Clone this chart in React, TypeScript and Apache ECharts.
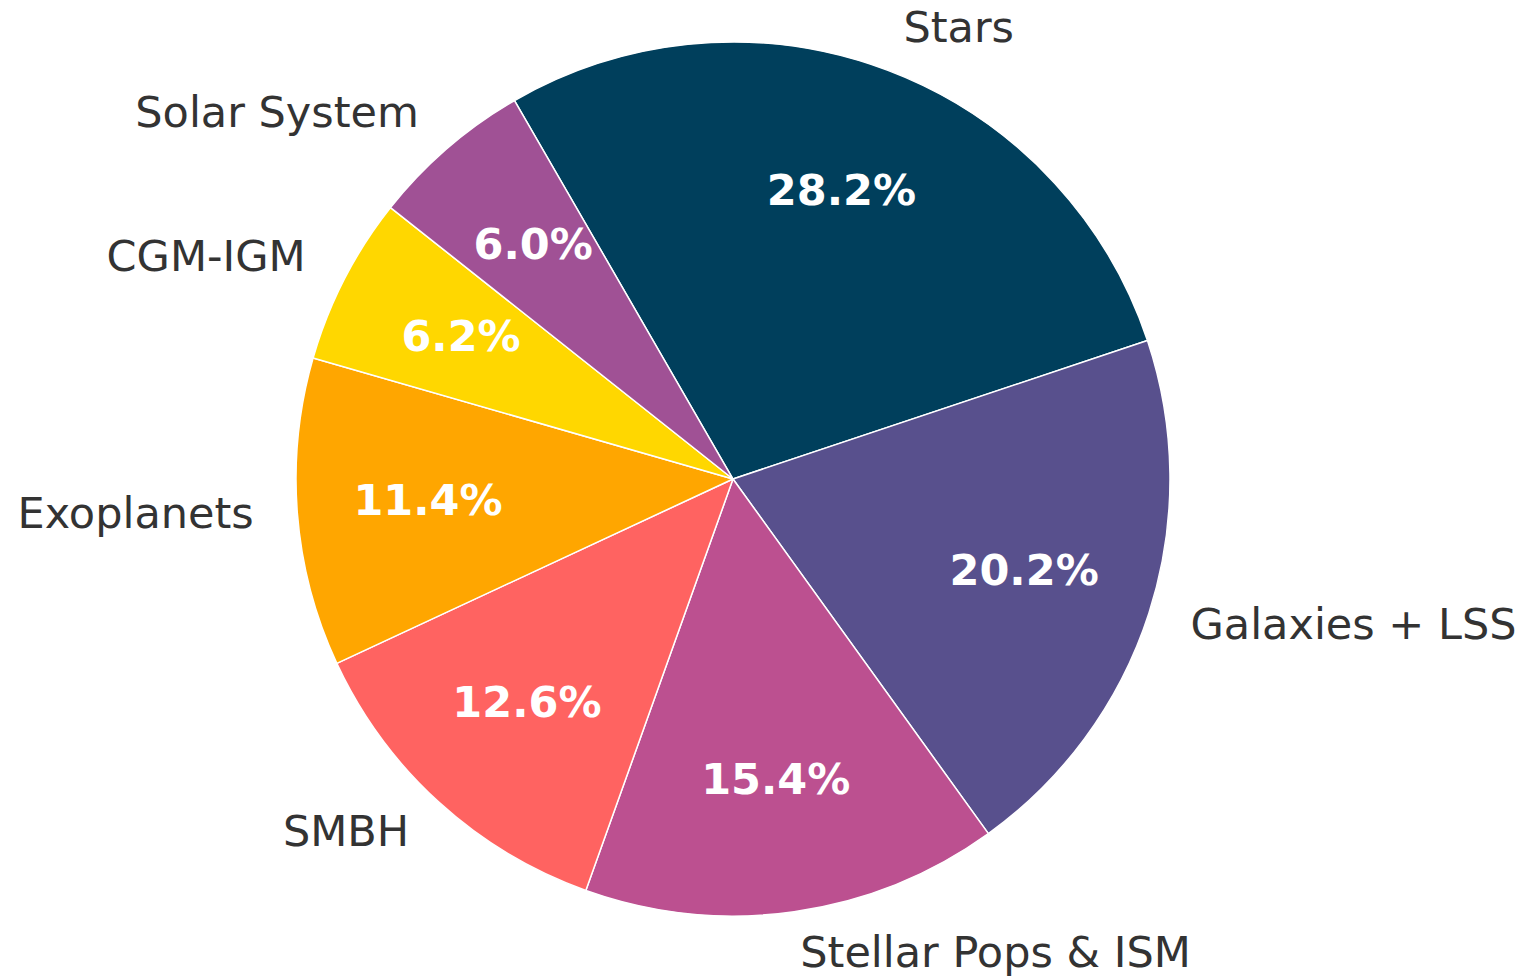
import React, { useEffect, useRef } from "react";
import * as echarts from "echarts";

const categories = [
  "Stars",
  "Galaxies + LSS",
  "Stellar Pops & ISM",
  "SMBH",
  "Exoplanets",
  "CGM-IGM",
  "Solar System",
];
const shares = [28.2, 20.2, 15.4, 12.6, 11.4, 6.2, 6.0];
const colors = ["#003f5c", "#58508d", "#bc5090", "#ff6361", "#ffa600", "#ffd700", "#a05195"];

export default function App() {
  const ref = useRef<HTMLDivElement>(null);
  useEffect(() => {
    if (!ref.current) return;
    const chart = echarts.init(ref.current, undefined, { renderer: "svg" });
    const R = 437;
    const center = [733, 479];
    const font = "DejaVu Sans";
    const data = categories.map((name, i) => ({
      name,
      value: shares[i],
      itemStyle: { color: colors[i] },
    }));
    chart.setOption({
      animation: false,
      backgroundColor: "#ffffff",
      series: [
        {
          type: "pie",
          radius: [0, R],
          center,
          startAngle: 120,
          clockwise: true,
          avoidLabelOverlap: false,
          silent: true,
          itemStyle: { borderColor: "#ffffff", borderWidth: 1.5 },
          label: {
            show: true,
            position: "outside",
            formatter: "{t|{b}}",
            rich: {
              t: {
                color: "#333333",
                fontFamily: font,
                fontSize: 43,
                padding: [0, 0, 6, 0],
              },
            },
            color: "#333333",
            fontFamily: font,
            fontSize: 43,
            distanceToLabelLine: 0,
            edgeDistance: 0,
            alignTo: "none",
          },
          labelLine: { show: false, length: R * 0.1, length2: 0 },
          data,
        },
        {
          type: "pie",
          radius: [R * 0.4 - 6, R],
          center,
          startAngle: 120,
          clockwise: true,
          avoidLabelOverlap: false,
          silent: true,
          itemStyle: { color: "rgba(0,0,0,0)", borderWidth: 0 },
          label: {
            show: true,
            position: "inside",
            formatter: (p: any) => "{p|" + p.value.toFixed(1) + "%}",
            rich: {
              p: {
                color: "#ffffff",
                fontFamily: font,
                fontWeight: "bold",
                fontSize: 43,
                padding: [0, 0, 6, 0],
              },
            },
            color: "#ffffff",
            fontFamily: font,
            fontWeight: "bold",
            fontSize: 43,
          },
          labelLine: { show: false },
          data: categories.map((name, i) => ({ name, value: shares[i] })),
        },
      ],
    });
    return () => chart.dispose();
  }, []);
  return (
    <div
      ref={ref}
      style={{ position: "fixed", left: 0, top: 0, width: 1527, height: 979 }}
    />
  );
}
